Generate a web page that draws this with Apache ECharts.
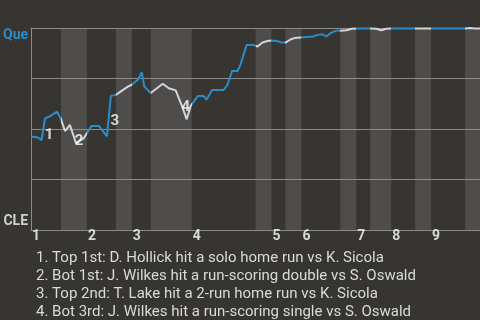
<!DOCTYPE html>
<html><head><meta charset="utf-8">
<script src="https://cdn.jsdelivr.net/npm/echarts@6/dist/echarts.min.js"></script>
<style>html,body{margin:0;padding:0;background:#373532;}#c{width:480px;height:320px;}</style>
</head><body><div id="c"></div>
<script>
// Play position (x) and Que win probability (%)
const playX = [0,1.4,2.1,2.8,3.9,5.2,5.9,6.8,7.8,9.0,10.6,12.1,13.6,15.2,16.0,17.0,19.4,20.2,21.4,22.2,22.7,24.0,26.4,27.6,29.0,30.3,31.2,32.0,33.4,34.6,35.2,36.3,38.6,39.4,40.3,41.4,42.0,43.2,44.6,45.4,46.4,47.4,48.2,49.2,50.2,51.0,52.0,52.8,54.0,56.6,57.4,58.4,59.2,60.0,61.3,62.0,63.2,64.3,65.2,68.0,68.2,69.2,70.2,71.2,72.2,77.0,77.2,78.0,80.2,87.0,88.0,89.0,90.0];
const winProb = [46.3,45.8,44.5,55.2,56.5,58.6,55.5,49.0,52.0,43.0,45.5,51.5,51.5,46.3,66.4,66.9,71.0,71.9,74.4,78.0,71.0,67.8,72.4,70.2,69.1,61.1,54.8,61.4,66.3,66.3,64.6,69.3,69.3,72.0,78.7,78.7,82.0,91.6,91.6,90.8,92.8,93.6,93.8,93.6,92.8,92.8,94.3,95.0,95.3,95.8,96.6,96.9,95.8,97.4,98.8,98.6,98.9,99.6,99.8,99.8,98.9,99.6,98.9,99.6,99.7,99.7,99.3,99.7,99.7,99.7,100,99.7,99.7];
const inningStarts = [0,11.2,20.2,32.2,48.2,54.2,65.2,72.2,80.2];
const inningLabels = ['1','2','3','4','5','6','7','8','9'];
const bottomHalves = [[6,11.2],[17,20.2],[24,32.2],[45,48.2],[51,54.2],[62,65.2],[68,72.2],[77,80.2],[87,90]];
const eventIndex = [3,9,14,26];
const eventLabels = ['1','2','3','4'];
const eventTexts = [
  'Top 1st: D. Hollick hit a solo home run vs K. Sicola',
  'Bot 1st: J. Wilkes hit a run-scoring double vs S. Oswald',
  'Top 2nd: T. Lake hit a 2-run home run vs K. Sicola',
  'Bot 3rd: J. Wilkes hit a run-scoring single vs S. Oswald'
];
const axisNames = ['CLE','Que'];

const BLUE = '#2a8cc8', WHITE = '#d4d4d4', GRID = '#8c8b89';
const eventOffsets = [[4,17],[3,-2],[4,25],[-1,-12]];

const pieces = [];
let prev = 0;
bottomHalves.forEach(([a,b]) => {
  if (a > prev) pieces.push({gte: prev, lt: a, color: BLUE});
  pieces.push({gte: a, lt: b, color: WHITE});
  prev = b;
});
pieces[pieces.length-1].lt = 1000;

const chart = echarts.init(document.getElementById('c'));
chart.setOption({
  backgroundColor: '#373532',
  animation: false,
  title: {
    text: eventTexts.map((t,i) => (i+1) + '. ' + t).join('\n'),
    left: 31, top: 244,
    textStyle: {color:'#dadada', fontSize:15, fontWeight:'normal', fontFamily:'Roboto', lineHeight:18}
  },
  grid: {left:30, right:0, top:28, bottom:90},
  xAxis: [
    {type:'value', min:0, max:90, z:2,
     axisLine:{show:true, onZero:false, lineStyle:{color:GRID}},
     axisTick:{show:false}, axisLabel:{show:false}, splitLine:{show:false}},
    {type:'value', min:0, max:90, z:2, position:'top',
     axisLine:{show:true, onZero:false, lineStyle:{color:GRID}},
     axisTick:{show:false}, axisLabel:{show:false}, splitLine:{show:false}}
  ],
  yAxis: {type:'value', min:0, max:100, interval:25, z:2,
    axisLine:{show:true, lineStyle:{color:GRID}},
    axisTick:{show:false},
    splitLine:{show:true, lineStyle:{color:GRID}},
    axisLabel:{margin:3, fontFamily:'Roboto',
      formatter: v => v === 100 ? '{q|' + axisNames[1] + '}' : (v === 0 ? '{c|' + axisNames[0] + '}' : ''),
      rich:{
        q:{color:BLUE, fontWeight:'bold', fontSize:14, fontFamily:'Roboto', padding:[14,0,0,0]},
        c:{color:'#cfcfcf', fontWeight:'bold', fontSize:14, fontFamily:'Roboto', padding:[0,0,18,0]}
      }}},
  visualMap: {show:false, type:'piecewise', dimension:0, seriesIndex:0, pieces: pieces},
  series: [
    {type:'line', data: playX.map((x,i) => [x, winProb[i]]), showSymbol:false, symbol:'none',
     lineStyle:{width:2}, z:3, clip:false},
    {type:'line', data: [[0,0]], symbol:'none', lineStyle:{opacity:0}, z:1,
     markArea:{silent:true, itemStyle:{color:'#4f4d4b'},
       data: bottomHalves.map(([a,b]) => [{xAxis:a},{xAxis:b}])}},
    {type:'scatter', symbolSize:0, clip:false, z:4, silent:true,
     data: inningStarts.map(x => [x, 0]),
     label:{show:true, formatter: p => inningLabels[p.dataIndex], position:[1,-1],
       color:'#ffffff', fontWeight:'bold', fontSize:14, fontFamily:'Roboto'}},
    {type:'scatter', symbolSize:0, clip:false, z:5, silent:true,
     data: eventIndex.map((k,i) => ({value:[playX[k], winProb[k]],
        label:{offset: eventOffsets[i]}})),
     label:{show:true, formatter: p => eventLabels[p.dataIndex], position:'inside',
       color:'#ffffff', fontWeight:'bold', fontSize:15, fontFamily:'Roboto'}}
  ]
});
</script></body></html>
